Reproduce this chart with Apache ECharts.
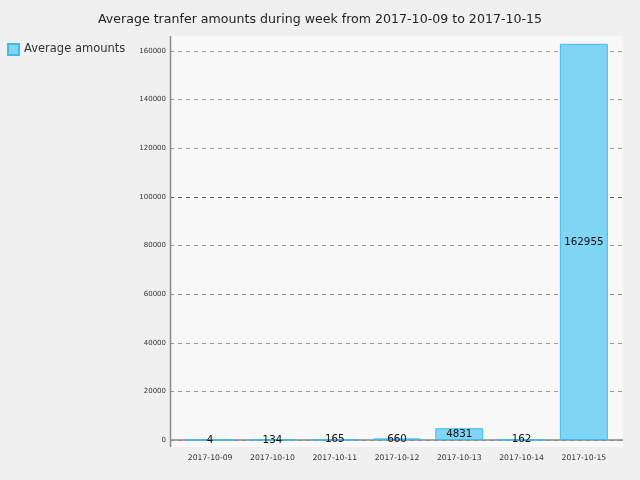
<!DOCTYPE html>
<html>
<head>
<meta charset="utf-8">
<script src="https://cdn.jsdelivr.net/npm/echarts@6/dist/echarts.min.js"></script>
<style>
  html, body { margin: 0; padding: 0; background: #f0f0f0; }
  #chart { width: 640px; height: 480px; }
</style>
</head>
<body>
<div id="chart"></div>
<script>
// data
var days = ['2017-10-09', '2017-10-10', '2017-10-11', '2017-10-12', '2017-10-13', '2017-10-14', '2017-10-15'];
var amounts = [4, 134, 165, 660, 4831, 162, 162955];
var yTicks = [0, 20000, 40000, 60000, 80000, 100000, 120000, 140000, 160000];

var myChart = echarts.init(document.getElementById('chart'));

// grid lines: 100000 is drawn a bit darker
var gridColors = yTicks.map(function (v) { return v === 100000 ? '#555' : '#999'; });

var option = {
    backgroundColor: '#f0f0f0',
    textStyle: { fontFamily: 'DejaVu Sans' },
    title: {
        text: 'Average tranfer amounts during week from 2017-10-09 to 2017-10-15',
        left: 'center',
        top: 8,
        textStyle: { fontSize: 12.6, fontWeight: 'normal', color: '#222', fontFamily: 'DejaVu Sans' }
    },
    legend: {
        data: ['Average amounts'],
        icon: 'rect',
        left: 7,
        top: 43,
        padding: 0,
        itemWidth: 11,
        itemHeight: 11,
        textStyle: { fontSize: 11.5, color: '#333', fontFamily: 'DejaVu Sans' }
    },
    graphic: [
        {
            type: 'rect',
            z: -10,
            shape: { x: 170, y: 36, width: 453, height: 411 },
            style: { fill: '#f8f8f8' }
        },
        {
            type: 'line',
            z: 10,
            shape: { x1: 170.5, y1: 36, x2: 170.5, y2: 447 },
            style: { stroke: '#888', lineWidth: 1.5 }
        }
    ],
    grid: [
        { left: 170, right: 17, top: 51, bottom: 40 },
        { left: 179, right: 25, top: 51, bottom: 40 }
    ],
    xAxis: [
        {
            gridIndex: 0,
            type: 'value',
            min: 0,
            max: 1,
            axisLine: { show: false },
            axisTick: { show: false },
            axisLabel: { show: false },
            splitLine: { show: false }
        },
        {
            gridIndex: 1,
            type: 'category',
            data: days,
            axisLine: { show: false },
            axisTick: { show: false },
            axisLabel: { interval: 0, fontSize: 7.7, color: '#333', margin: 14, fontFamily: 'DejaVu Sans' }
        }
    ],
    yAxis: [
        {
            gridIndex: 0,
            type: 'value',
            min: 0,
            max: 160000,
            interval: 20000,
            axisLine: { show: false },
            axisTick: { show: false },
            axisLabel: {
                fontSize: 7,
                color: '#333',
                margin: 4,
                fontFamily: 'DejaVu Sans',
                formatter: function (v) { return String(v); }
            },
            splitLine: { show: true, lineStyle: { color: gridColors, type: [4, 4], width: 1 } }
        },
        {
            gridIndex: 1,
            type: 'value',
            min: 0,
            max: 160000,
            interval: 20000,
            show: false,
            splitLine: { show: false }
        }
    ],
    series: [
        {
            name: 'Average amounts',
            type: 'bar',
            xAxisIndex: 1,
            yAxisIndex: 1,
            data: amounts,
            barWidth: '77%',
            clip: false,
            itemStyle: { color: '#80d5f4', borderColor: '#3fbbea', borderWidth: 1 },
            label: {
                show: true,
                position: 'inside',
                fontSize: 10.3,
                color: '#111',
                fontFamily: 'DejaVu Sans'
            },
            markLine: {
                silent: true,
                symbol: 'none',
                label: { show: false },
                lineStyle: { color: '#888', type: 'solid', width: 1.5 },
                data: [[{ x: 170, y: 440 }, { x: 623, y: 440 }]],
                z: 1
            },
            z: 3
        }
    ]
};
myChart.setOption(option);
</script>
</body>
</html>
